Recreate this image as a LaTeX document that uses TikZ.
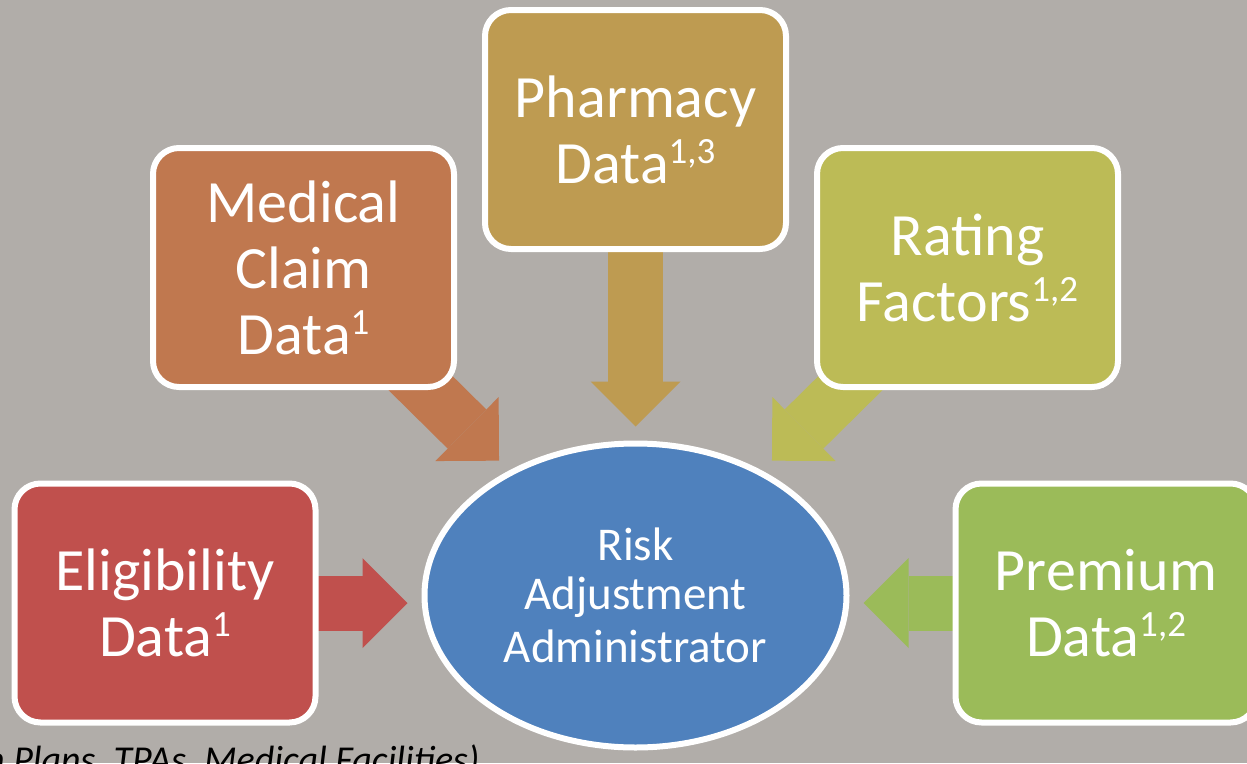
\documentclass[tikz,border=0pt]{standalone}
\usepackage{fontspec}
\setmainfont{Carlito}
\usetikzlibrary{arrows.meta,backgrounds,shapes.geometric}

\definecolor{bgGray}{HTML}{B1ADA9}
\definecolor{eligRed}{HTML}{C0504D}
\definecolor{medOrange}{HTML}{C0784F}
\definecolor{pharmGold}{HTML}{BE9B51}
\definecolor{rateOlive}{HTML}{BCBB56}
\definecolor{premGreen}{HTML}{9BBB59}
\definecolor{raBlue}{HTML}{4F81BD}

\newcommand\supx[1]{\raisebox{20pt}{\fontsize{37}{37}\selectfont #1}}

\begin{document}
\begin{tikzpicture}
            [x=1pt, y=-1pt,
        box/.style={rectangle, rounded corners=26pt, draw=white, line width=6pt, minimum width=301pt, minimum height=239pt, inner sep=0pt, align=center, text=white, font=\fontsize{60}{66}\selectfont},
        hub/.style={ellipse, draw=white, line width=6pt, fill=raBlue, minimum width=422pt, minimum height=304pt, inner sep=0pt, align=center, text=white, font=\fontsize{47}{53}\selectfont},
        flow/.style={line width=55pt, -{Triangle[length=45pt, width=90pt, line width=0pt]}, shorten >=14pt}]
            \useasboundingbox (0,0) rectangle (1247,763);

            \node[box, fill=eligRed] (Elig) at (165,603) {Eligibility\\Data\supx{1}};
            \node[box, fill=medOrange] (Med) at (303.5,267.5) {Medical\\Claim\\Data\supx{1}};
            \node[box, fill=pharmGold] (Pharm) at (635.5,129.5) {Pharmacy\\Data\supx{1,3}};
            \node[box, fill=rateOlive] (Rate) at (967.5,267.5) {Rating\\Factors\supx{1,2}};
            \node[box, fill=premGreen] (Prem) at (1106,603) {Premium\\Data\supx{1,2}};
            \node[hub] (RA) at (635.5,595.5) {\raisebox{-4pt}{Risk}\\Adjustment\\Administrator};
            \node[anchor=base west, inner sep=0pt, font=\fontsize{38}{44}\selectfont\itshape] (Src) at (-15,772) {h Plans, TPAs, Medical Facilities)};

            % arrows go under the boxes
            \begin{scope}[on background layer]
            \fill[bgGray] (0,0) rectangle (1247,763);
            \draw[flow, eligRed] (Elig.center) -- (Elig -| RA.west);
            \draw[flow, medOrange] (Med.center) -- (RA);
            \draw[flow, pharmGold] (Pharm.center) -- (RA);
            \draw[flow, rateOlive] (Rate.center) -- (RA);
            \draw[flow, premGreen] (Prem.center) -- (Prem -| RA.east);
            \end{scope}
        \end{tikzpicture}
\end{document}
